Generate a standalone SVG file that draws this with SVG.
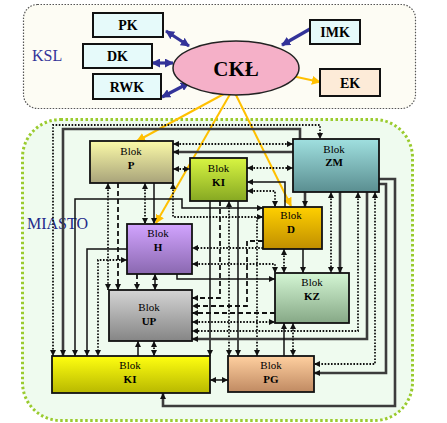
<svg xmlns="http://www.w3.org/2000/svg" width="447" height="423" viewBox="0 0 447 423">
<style>
.lbl{font-family:"Liberation Serif","Times New Roman",serif;fill:#000}
.top{font-size:14px;font-weight:bold;text-anchor:middle}
.bk{font-size:11px;text-anchor:middle}
.bb{font-size:11px;font-weight:bold;text-anchor:middle}
.box{stroke:#111;stroke-width:2}
.blk{stroke:#111;stroke-width:1.8}
.c{fill:none;stroke:#111;stroke-width:1.5}
.d{stroke-dasharray:1.6 1.6;stroke-width:1.8}
.h{stroke-dasharray:5 3;stroke-width:1.8}
.w{stroke:#3c3c3c;stroke-width:2.6}
.bl{fill:none;stroke:#333399;stroke-width:3.2}
.y{fill:none;stroke:#ffc000;stroke-width:2}
</style>
<defs>
<marker id="a" viewBox="0 0 10 10" refX="10" refY="5" markerWidth="6" markerHeight="6" markerUnits="userSpaceOnUse" orient="auto-start-reverse"><path d="M0,0L10,5L0,10z" fill="#111"/></marker>
<marker id="ab" viewBox="0 0 10 10" refX="9" refY="5" markerWidth="9" markerHeight="9" markerUnits="userSpaceOnUse" orient="auto-start-reverse"><path d="M0,0L10,5L0,10z" fill="#333399"/></marker>
<marker id="ay" viewBox="0 0 10 10" refX="9" refY="5" markerWidth="9" markerHeight="9" markerUnits="userSpaceOnUse" orient="auto-start-reverse"><path d="M0,0L10,5L0,10z" fill="#ffc000"/></marker>
<linearGradient id="gP" x1="0" y1="0" x2="0" y2="1"><stop offset="0" stop-color="#fbfaa8"/><stop offset="1" stop-color="#a8a37a"/></linearGradient>
<linearGradient id="gKI" x1="0" y1="0" x2="0" y2="1"><stop offset="0" stop-color="#d8f542"/><stop offset="1" stop-color="#86a822"/></linearGradient>
<linearGradient id="gZM" x1="0" y1="0" x2="0" y2="1"><stop offset="0" stop-color="#a0e0e0"/><stop offset="1" stop-color="#5a8e90"/></linearGradient>
<linearGradient id="gD" x1="0" y1="0" x2="0" y2="1"><stop offset="0" stop-color="#ffd000"/><stop offset="1" stop-color="#c08e00"/></linearGradient>
<linearGradient id="gH" x1="0" y1="0" x2="0" y2="1"><stop offset="0" stop-color="#d2a4ff"/><stop offset="1" stop-color="#8a68b0"/></linearGradient>
<linearGradient id="gUP" x1="0" y1="0" x2="0" y2="1"><stop offset="0" stop-color="#d4d4d4"/><stop offset="1" stop-color="#858585"/></linearGradient>
<linearGradient id="gKZ" x1="0" y1="0" x2="0" y2="1"><stop offset="0" stop-color="#d4f6d4"/><stop offset="1" stop-color="#86a886"/></linearGradient>
<linearGradient id="gKY" x1="0" y1="0" x2="0" y2="1"><stop offset="0" stop-color="#ffff10"/><stop offset="1" stop-color="#b8b800"/></linearGradient>
<linearGradient id="gPG" x1="0" y1="0" x2="0" y2="1"><stop offset="0" stop-color="#ffd0a0"/><stop offset="1" stop-color="#c08a62"/></linearGradient>
</defs>
<rect width="447" height="423" fill="#ffffff"/>
<g id="ksl">
<rect x="23.5" y="4.5" width="392" height="104" rx="14" fill="#fdfcf4" stroke="#555" stroke-width="1.2" stroke-dasharray="1.5 1.5"/>
<text class="lbl" x="32" y="61" font-size="16" style="fill:#333399">KSL</text>
</g>
<g id="miasto">
<rect x="22.5" y="119.5" width="390" height="301" rx="38" fill="#effbef" stroke="#9acb2e" stroke-width="3" stroke-dasharray="2.5 2.5"/>
<text class="lbl" x="27" y="229" font-size="16" style="fill:#1f2a8a">MIASTO</text>
</g>
<g id="connectors">
<path class="bl" d="M166,31L189,46" marker-start="url(#ab)" marker-end="url(#ab)"/>
<path class="bl" d="M152,63L173,63" marker-start="url(#ab)" marker-end="url(#ab)"/>
<path class="bl" d="M162,97L189,83" marker-start="url(#ab)" marker-end="url(#ab)"/>
<path class="bl" d="M310,29L282,45" marker-end="url(#ab)"/>
<path class="y" d="M292,76L320,82" marker-end="url(#ay)"/>
<path class="y" d="M233,89L137,141" marker-end="url(#ay)"/>
<path class="y" d="M233,89L156,223" marker-end="url(#ay)"/>
<path class="y" d="M233,89L291,206" marker-end="url(#ay)"/>
<path class="c d" d="M53,356L53,125L320,125L320,139" marker-start="url(#a)" marker-end="url(#a)"/>
<path class="c w" d="M63,356L63,129L300,129L300,139" marker-start="url(#a)"/>
<path class="c d" d="M173,144L293,144" marker-start="url(#a)" marker-end="url(#a)"/>
<path class="c w" d="M293,152L173,152" marker-end="url(#a)"/>
<path class="c d" d="M173,169L190,169" marker-start="url(#a)" marker-end="url(#a)"/>
<path class="c d" d="M247,168L293,168" marker-start="url(#a)" marker-end="url(#a)"/>
<path class="c" d="M285,207L285,182L247,182" marker-end="url(#a)"/>
<path class="c d" d="M247,191L275,191L275,207" marker-start="url(#a)" marker-end="url(#a)"/>
<path class="c w" d="M305,192L305,207" marker-end="url(#a)"/>
<path class="c" d="M75,356L75,199L182,199L182,208L263,208" marker-start="url(#a)" marker-end="url(#a)"/>
<path class="c d" d="M173,183L173,217L263,217" marker-start="url(#a)" marker-end="url(#a)"/>
<path class="c d" d="M108,183L108,290" marker-start="url(#a)" marker-end="url(#a)"/>
<path class="c h" d="M118,183L118,290" marker-end="url(#a)"/>
<path class="c d" d="M145,183L145,224" marker-start="url(#a)" marker-end="url(#a)"/>
<path class="c" d="M154,183L154,224" marker-end="url(#a)"/>
<path class="c" d="M127,249L87,249L87,356" marker-end="url(#a)"/>
<path class="c d" d="M127,260L98,260L98,356" marker-start="url(#a)" marker-end="url(#a)"/>
<path class="c h" d="M137,274L137,290" marker-end="url(#a)"/>
<path class="c" d="M155,274L155,290" marker-start="url(#a)" marker-end="url(#a)"/>
<path class="c" d="M177,274L177,279L275,279" marker-end="url(#a)"/>
<path class="c d" d="M192,264L275,264L275,273" marker-start="url(#a)" marker-end="url(#a)"/>
<path class="c d" d="M263,248L192,248" marker-end="url(#a)"/>
<path class="c h" d="M220,201L220,298L192,298" marker-end="url(#a)"/>
<path class="c d" d="M229,201L229,356" marker-start="url(#a)" marker-end="url(#a)"/>
<path class="c" d="M238,201L238,356" marker-end="url(#a)"/>
<path class="c" d="M210,201L210,356" marker-end="url(#a)"/>
<path class="c h" d="M263,241L247,241L247,306L192,306" marker-end="url(#a)"/>
<path class="c d" d="M257,217L257,356" marker-end="url(#a)"/>
<path class="c h" d="M275,313L192,313" marker-end="url(#a)"/>
<path class="c d" d="M192,322L275,322" marker-start="url(#a)" marker-end="url(#a)"/>
<path class="c d" d="M358,192L358,331L192,331" marker-start="url(#a)" marker-end="url(#a)"/>
<path class="c w" d="M367,192L367,339L192,339" marker-end="url(#a)"/>
<path class="c d" d="M375,192L375,364L314,364" marker-start="url(#a)" marker-end="url(#a)"/>
<path class="c w" d="M379,184L386,184L386,373L314,373" marker-end="url(#a)"/>
<path class="c w" d="M379,179L395,179L395,406L163,406L163,393" marker-end="url(#a)"/>
<path class="c d" d="M284,249L284,273" marker-start="url(#a)" marker-end="url(#a)"/>
<path class="c" d="M303,249L303,273" marker-end="url(#a)"/>
<path class="c d" d="M331,192L331,273" marker-start="url(#a)" marker-end="url(#a)"/>
<path class="c w" d="M340,192L340,273" marker-end="url(#a)"/>
<path class="c" d="M284,356L284,323" marker-end="url(#a)"/>
<path class="c d" d="M293,323L293,356" marker-start="url(#a)" marker-end="url(#a)"/>
<path class="c" d="M210,380L228,380" marker-start="url(#a)" marker-end="url(#a)"/>
<path class="c" d="M138,356L138,341" marker-end="url(#a)"/>
<path class="c d" d="M154,341L154,356" marker-start="url(#a)" marker-end="url(#a)"/>
</g>
<g id="PK"><rect class="box" x="93" y="13" width="70" height="24" fill="#e6fafa"/><text class="lbl top" x="128" y="30">PK</text></g>
<g id="DK"><rect class="box" x="83" y="44" width="69" height="24" fill="#e6fafa"/><text class="lbl top" x="117.5" y="61">DK</text></g>
<g id="RWK"><rect class="box" x="93" y="74" width="68" height="25" fill="#e6fafa"/><text class="lbl top" x="127" y="92">RWK</text></g>
<g id="IMK"><rect class="box" x="310" y="20" width="50" height="24" fill="#e6fafa"/><text class="lbl top" x="335" y="37">IMK</text></g>
<g id="EK"><rect class="box" x="320" y="69" width="60" height="27" fill="#fdebd8"/><text class="lbl top" x="350" y="88">EK</text></g>
<g id="CKL"><ellipse cx="236" cy="68" rx="63" ry="27" fill="#f5b0c8" stroke="#222" stroke-width="1.5"/><text class="lbl" x="236" y="76" font-size="21" font-weight="bold" text-anchor="middle">CKŁ</text></g>
<g id="blokP"><rect class="blk" x="90" y="141" width="83" height="42" fill="url(#gP)"/><text class="lbl bk" x="131" y="155">Blok</text><text class="lbl bb" x="131" y="169">P</text></g>
<g id="blokKI1"><rect class="blk" x="190" y="158" width="57" height="43" fill="url(#gKI)"/><text class="lbl bk" x="218.5" y="172">Blok</text><text class="lbl bb" x="218.5" y="186">KI</text></g>
<g id="blokZM"><rect class="blk" x="293" y="139" width="86" height="53" fill="url(#gZM)"/><text class="lbl bk" x="334" y="153">Blok</text><text class="lbl bb" x="334" y="166">ZM</text></g>
<g id="blokD"><rect class="blk" x="263" y="207" width="59" height="42" fill="url(#gD)"/><text class="lbl bk" x="291" y="219">Blok</text><text class="lbl bb" x="291" y="233">D</text></g>
<g id="blokH"><rect class="blk" x="127" y="224" width="65" height="50" fill="url(#gH)"/><text class="lbl bk" x="158" y="237">Blok</text><text class="lbl bb" x="158" y="251">H</text></g>
<g id="blokUP"><rect class="blk" x="109" y="290" width="83" height="51" fill="url(#gUP)"/><text class="lbl bk" x="149" y="311">Blok</text><text class="lbl bb" x="149" y="325">UP</text></g>
<g id="blokKZ"><rect class="blk" x="275" y="273" width="74" height="50" fill="url(#gKZ)"/><text class="lbl bk" x="312" y="286">Blok</text><text class="lbl bb" x="312" y="300">KZ</text></g>
<g id="blokKI2"><rect class="blk" x="52" y="356" width="158" height="37" fill="url(#gKY)"/><text class="lbl bk" x="130" y="369">Blok</text><text class="lbl bb" x="130" y="383">KI</text></g>
<g id="blokPG"><rect class="blk" x="228" y="356" width="86" height="36" fill="url(#gPG)"/><text class="lbl bk" x="271" y="369">Blok</text><text class="lbl bb" x="271" y="383">PG</text></g>
</svg>
